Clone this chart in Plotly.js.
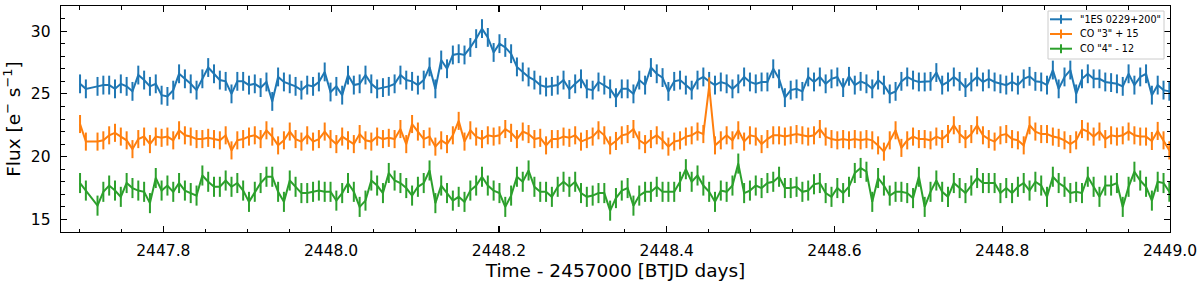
<!DOCTYPE html>
<html>
<head>
<meta charset="utf-8">
<script src="https://cdn.plot.ly/plotly-3.0.1.min.js"></script>
<style>
  html, body { margin: 0; padding: 0; background: #ffffff; }
  #chart { width: 1200px; height: 286px; }
</style>
</head>
<body>
<div id="chart"></div>
<script>
// ---- data ----
const tStart = 2447.7007;          // BTJD - 2457000, first cadence
const cadence = 0.006944;          // 10-min TESS FFI cadence (days)

const seriesNames = ['"1ES 0229+200"', 'CO "3" + 15', 'CO "4" - 12'];
const seriesColors = ['#1f77b4', '#ff7f0e', '#2ca02c'];

const flux1ES = [
  25.8, 25.4, null, 25.6, 25.7, 25.7, 25.4, 25.8, 25.6, 25.2,
  26.5, 26.1, 25.6, 25.8, 24.9, 24.8, 25.3, 26.6, 26.2, 25.8,
  25.3, 26.2, 27.1, 26.6, 26.1, 26.0, 25.0, 26.0, 26.0, 25.7,
  25.8, 25.5,
  25.95, 24.4, 26.35, 25.95, 25.8, 25.6, 25.3, 25.7, 25.6, 25.95,
  26.75, 25.15, 25.6, 24.9, 26.5, 25.7, 25.8, 26.5, 25.8, 25.4,
  25.5, 25.6, 25.8, 26.5, 26.1, 26.0, 25.7, 26.1, 27.15, 25.4,
  27.7, 27.0,
  28.1, 28.2, 28.1, 28.7, 29.4, 30.2, 29.5, 28.3, 29.0, 28.7,
  28.2, 27.15, 26.75, 26.35, 26.1, 25.7, 25.55, 25.6, 25.7, 26.1,
  25.35, 25.8, 26.2, 25.4, 25.3, 25.95, 25.7, 25.4, 24.7, 25.4,
  25.4, 25.0, 26.1, 25.7, 27.1, 26.6, 26.3, 25.2, 26.0, 26.1,
  25.7, 25.3, 26.1, 26.35, 26.0, 25.7, 25.95, 25.8, 25.4, 25.8,
  26.35, 25.95, 25.8, 25.95, 25.95, 27.0, 26.2, 24.7, 25.3, 25.4,
  25.2, 26.35, 25.95,
  26.35, 25.8, 26.2, 26.35, 25.5, 26.4, 25.7, 26.0, 25.8, 25.4,
  26.1, 25.7, 25.0, 25.2, 26.0, 26.35, 26.1, 25.95, 25.95, 26.0,
  26.7, 25.7, 25.95, 26.35, 26.0, 25.5, 25.95, 26.35, 25.95, 26.2,
  25.95,
  25.8, 25.7, 25.95, 25.7, 26.2, 26.4, 26.0, 25.95, 25.7, 26.9,
  25.4, 26.35, 26.9, 25.0, 26.2, 26.6, 26.2, 26.2, 25.95, 25.9,
  25.8, 25.6, 26.6, 25.7, 26.35, 26.6, 24.9, 25.7, 25.3, 25.2
];

const fluxCO3 = [
  22.6, 21.2, null, 21.2, 21.3, 21.7, 21.9, 21.6, 21.3, 20.6,
  21.4, 21.6, 21.0, 21.6, 21.5, 21.6, 21.3, 22.1, 21.7, 21.6,
  21.4, 21.4, 21.5, 21.4, 21.3, 21.7, 20.5, 21.3, 21.4, 21.6,
  21.7, 21.4,
  22.1, 21.6, 20.9, 21.3, 22.0, 21.4, 21.2, 21.7, 21.2, 21.4,
  22.0, 21.4, 21.0, 21.6, 21.3, 21.0, 21.8, 21.3, 21.2, 21.6,
  21.4, 21.5, 21.4, 22.2, 21.0, 22.6, 22.0, 21.4, 21.6, 20.8,
  21.3, 21.0,
  21.7, 22.85, 21.2, 22.1, 21.6, 21.4, 21.7, 21.6, 21.7, 22.2,
  21.9, 21.4, 22.0, 21.8, 21.4, 21.5, 20.9, 21.4, 21.4, 21.6,
  21.5, 21.7, 21.2, 21.4, 21.6, 22.1, 21.7, 20.9, 21.25, 21.7,
  21.8, 22.2, 21.3, 21.0, 21.4, 21.7, 21.3, 20.8, 21.2, 21.3,
  21.6, 21.7, 22.0, 21.8, 25.6, 20.9, 21.3, 21.7, 21.3, 22.1,
  21.2, 21.7, 21.6, 21.0, 21.4, 21.7, 21.7, 21.6, 21.7, 21.8,
  21.7, 21.6, 21.7,
  22.2, 21.6, 21.4, 21.3, 21.4, 21.3, 21.4, 21.3, 21.4, 21.3,
  20.9, 20.4, 21.3, 22.1, 20.7, 21.3, 21.6, 21.4, 21.4, 21.3,
  21.6, 21.4, 21.8, 22.5, 21.8, 21.4, 21.8, 22.5, 21.7, 21.4,
  21.2,
  21.7, 21.8, 21.4, 21.3, 20.9, 22.5, 22.0, 21.8, 21.8, 21.6,
  21.5, 21.3, 21.0, 21.3, 22.2, 22.0, 21.6, 22.0, 21.4, 21.7,
  21.6, 21.7, 22.0, 21.7, 21.6, 21.6, 21.25, 22.05, 21.3, 20.5
];

const fluxCO4 = [
  17.9, 17.3, null, 16.1, 17.2, 17.7, 17.3, 16.8, 17.9, 17.5,
  17.3, 17.2, 16.3, 18.3, 17.3, 17.7, 17.2, 17.9, 17.3, 17.1,
  16.9, 18.5, 18.0, 17.6, 17.6, 18.1, 17.6, 17.9, 17.3, 16.4,
  17.2, 17.9,
  18.4, 18.4, 17.2, 16.4, 18.1, 17.6, 17.1, 17.1, 17.2, 17.3,
  17.2, 17.2, 16.5, 17.1, 17.9, 17.2, 16.0, 16.5, 18.1, 17.7,
  17.1, 18.7, 18.1, 17.9, 17.5, 16.9, 17.6, 17.9, 18.9, 16.3,
  17.7, 17.1,
  16.5, 16.8, 16.4, 17.3, 17.7, 18.4, 17.7, 17.3, 17.1, 16.0,
  16.9, 18.4, 18.0, 18.9, 17.6, 17.2, 17.2, 16.8, 17.6, 18.0,
  17.6, 18.0, 17.1, 16.8, 16.9, 17.1, 17.1, 15.7, 16.7, 17.3,
  17.5, 16.1, 16.9, 17.2, 17.2, 17.6, 17.2, 17.2, 17.2, 18.0,
  19.0, 18.0, 18.5, 17.7, 17.2, 16.4, 17.3, 17.2, 17.7, 19.45,
  17.1, 17.3, 17.7, 17.5, 17.9, 18.0, 18.4, 17.5, 17.5, 17.6,
  17.2, 17.3, 17.8,
  17.9, 17.1, 16.8, 17.5, 17.1, 17.6, 18.7, 19.1, 18.8, 16.4,
  18.3, 17.7, 16.9, 17.2, 17.2, 17.1, 16.7, 18.4, 16.0, 17.2,
  18.1, 17.2, 16.8, 17.9, 17.5, 17.1, 17.7, 18.3, 17.9, 17.9,
  17.9,
  17.1, 17.5, 17.1, 17.6, 17.9, 17.3, 18.0, 17.7, 16.8, 18.4,
  17.9, 17.6, 17.1, 17.2, 17.1, 18.4, 17.6, 16.8, 17.7, 17.7,
  17.9, 16.0, 17.6, 18.8, 18.1, 17.6, 16.5, 18.0, 17.9, 17.2
];

const fluxErr = [0.75, 0.72, 0.8];   // 1-sigma errors of the three light curves
const xTickVals = [2447.8, 2448.0, 2448.2, 2448.4, 2448.6, 2448.8, 2449.0];
const yTickVals = [15, 20, 25, 30];

// ---- build traces ----
const time = flux1ES.map((_, i) => tStart + i * cadence);
const allFlux = [flux1ES, fluxCO3, fluxCO4];

const FONT = 'DejaVu Sans, Verdana, sans-serif';

const traces = allFlux.map((f, s) => ({
  type: 'scatter',
  mode: 'lines',
  x: time,
  y: f,
  name: seriesNames[s],
  showlegend: false,
  connectgaps: true,
  line: { color: seriesColors[s], width: 2 },
  error_y: { type: 'constant', value: fluxErr[s], visible: true,
             color: seriesColors[s], thickness: 2, width: 0 }
}));

// ---- compact matplotlib-style legend (box, line+errorbar keys, text) ----
const M = { l: 61, r: 30, t: 6, b: 54 };
const PW = 1200 - M.l - M.r, PH = 286 - M.t - M.b;
const px = v => (v - M.l) / PW;          // pixel -> paper x
const py = v => 1 - (v - M.t) / PH;      // pixel -> paper y

const legBox = { x0: 1048, x1: 1164, y0: 11, y1: 59 };
const legRowY = [19.3, 34, 48.7];
const shapes = [];
const annotations = [];
shapes.push({
  type: 'rect', xref: 'paper', yref: 'paper', layer: 'above',
  x0: px(legBox.x0), x1: px(legBox.x1), y0: py(legBox.y1), y1: py(legBox.y0),
  fillcolor: 'rgba(255,255,255,0.8)', line: { color: '#cccccc', width: 1 }
});
seriesNames.forEach((name, s) => {
  const yy = legRowY[s];
  shapes.push({ type: 'line', xref: 'paper', yref: 'paper', layer: 'above',
    x0: px(1050), x1: px(1072), y0: py(yy), y1: py(yy),
    line: { color: seriesColors[s], width: 2 } });
  shapes.push({ type: 'line', xref: 'paper', yref: 'paper', layer: 'above',
    x0: px(1061), x1: px(1061), y0: py(yy - 4.5), y1: py(yy + 4.5),
    line: { color: seriesColors[s], width: 2 } });
  annotations.push({ xref: 'paper', yref: 'paper', x: px(1078), y: py(yy),
    xanchor: 'left', yanchor: 'middle', showarrow: false, text: name,
    font: { family: FONT, size: 9.6, color: '#000' } });
});

const axisCommon = {
  showline: true, linecolor: '#000', linewidth: 1.3, mirror: 'ticks',
  ticks: 'inside', ticklen: 6, tickwidth: 1.2, tickcolor: '#000',
  showgrid: false, zeroline: false,
  tickfont: { family: FONT, size: 15.5, color: '#000' }
};

const layout = {
  width: 1200, height: 286,
  paper_bgcolor: '#ffffff', plot_bgcolor: '#ffffff',
  margin: M,
  showlegend: false,
  shapes: shapes,
  annotations: annotations,
  xaxis: Object.assign({}, axisCommon, {
    range: [2447.678, 2449.0],
    tickmode: 'array', tickvals: xTickVals,
    ticktext: xTickVals.map(v => v.toFixed(1)),
    ticklabelstandoff: 4,
    minor: { dtick: 0.05, tick0: 2447.8, ticks: 'inside', ticklen: 3.5, tickwidth: 1, tickcolor: '#000' },
    title: { text: 'Time - 2457000 [BTJD days]', standoff: 5,
             font: { family: FONT, size: 18.5, color: '#000' } }
  }),
  yaxis: Object.assign({}, axisCommon, {
    range: [14, 32],
    tickmode: 'array', tickvals: yTickVals,
    ticktext: yTickVals.map(String),
    ticklabelstandoff: 6,
    minor: { dtick: 1, tick0: 0, ticks: 'inside', ticklen: 3.5, tickwidth: 1, tickcolor: '#000' },
    title: { text: 'Flux [e<sup>\u2212</sup> s<sup>\u22121</sup>]', standoff: 8,
             font: { family: FONT, size: 18.5, color: '#000' } }
  })
};

Plotly.newPlot('chart', traces, layout, { staticPlot: true, displayModeBar: false });
</script>
</body>
</html>
